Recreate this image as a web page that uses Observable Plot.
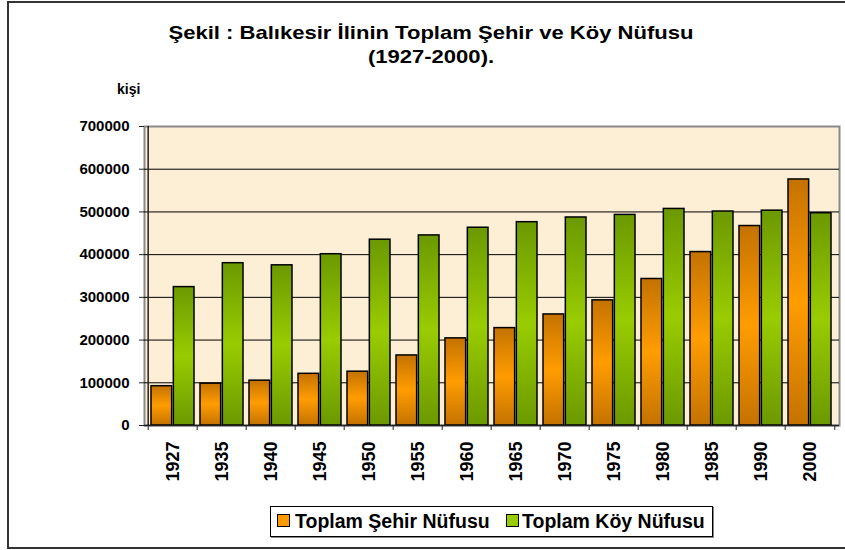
<!DOCTYPE html>
<html>
<head>
<meta charset="utf-8">
<script src="https://cdn.jsdelivr.net/npm/d3@7"></script>
<script src="https://cdn.jsdelivr.net/npm/@observablehq/plot@0.6"></script>
<style>
  html, body { margin: 0; padding: 0; background: #fff; overflow: hidden; }
  #wrap { position: relative; width: 845px; height: 550px; overflow: hidden;
    font-family: "Liberation Sans", Arial, sans-serif; font-weight: bold; color: #000; }
  #border { position: absolute; left: 7px; top: 1px; width: 900px; height: 544px; border: 2px solid #333; }
  #title { position: absolute; left: 131px; width: 600px; top: 21px; text-align: center;
    font-size: 19px; line-height: 24px; transform: scaleX(1.16); transform-origin: 300px 0; }
  #unit { position: absolute; left: 117px; top: 81px; font-size: 14px; }
  #chart { position: absolute; left: 0; top: 0; }
  #legend { position: absolute; left: 270px; top: 506px; width: 441px; height: 29px;
    border: 1px solid #000; box-shadow: 1px 1px 0 #888; background: #fff; font-size: 19.5px; white-space: nowrap; }
  .sw { position: absolute; top: 7px; width: 11px; height: 11px; border: 1px solid #000; }
  .lt { position: absolute; top: 3px; line-height: 22px; }
</style>
</head>
<body>
<div id="wrap">
  <div id="border"></div>
  <div id="title">Şekil : Balıkesir İlinin Toplam Şehir ve Köy Nüfusu<br>(1927-2000).</div>
  <div id="unit">kişi</div>
  <div id="chart"></div>
  <div id="legend"></div>
</div>
<script>
const years = ["1927","1935","1940","1945","1950","1955","1960","1965","1970","1975","1980","1985","1990","2000"];
const sehir = [92000, 98000, 105000, 121000, 126000, 164000, 204000, 228000, 260000, 293000, 343000, 406000, 467000, 576000];
const koy   = [324000, 380000, 375000, 401000, 435000, 445000, 463000, 476000, 487000, 493000, 507000, 501000, 503000, 497000];
const seriesNames = ["Toplam Şehir Nüfusu", "Toplam Köy Nüfusu"];
const yTicks = [0, 100000, 200000, 300000, 400000, 500000, 600000, 700000];

const rows = years.flatMap((y, i) => [
  {year: y, series: seriesNames[0], value: sehir[i]},
  {year: y, series: seriesNames[1], value: koy[i]}
]);

const W = 845, H = 550;
const mL = 144, mR = 6, mT = 126, mB = 125;
const nB = years.length;
const pIn = 0.12, pOut = 0.06;
const step = (W - mL - mR) / (nB - pIn + 2 * pOut);
const bw = step * (1 - pIn);

const chart = Plot.plot({
  width: W, height: H,
  marginLeft: mL, marginRight: mR, marginTop: mT, marginBottom: mB,
  style: {fontFamily: "'Liberation Sans', Arial, sans-serif", fontWeight: "bold", color: "#000", background: "transparent", overflow: "visible"},
  x: {type: "band", domain: years, paddingInner: pIn, paddingOuter: pOut, align: 0.5, axis: null},
  y: {domain: [0, 700000], axis: null},
  marks: [
    Plot.frame({fill: "#fcefd6", stroke: "#8a8a8a", strokeWidth: 2}),
    Plot.ruleY(yTicks.slice(1, -1), {stroke: "#000", strokeWidth: 1}),
    Plot.barY(rows.filter(d => d.series === seriesNames[0]), {
      x: "year", y: "value", insetRight: bw / 2 + 0.5,
      fill: "url(#gOrange)", stroke: "#000", strokeWidth: 1.5
    }),
    Plot.barY(rows.filter(d => d.series === seriesNames[1]), {
      x: "year", y: "value", insetLeft: bw / 2 + 0.5,
      fill: "url(#gGreen)", stroke: "#000", strokeWidth: 1.5
    }),
    Plot.ruleY([0], {stroke: "#222", strokeWidth: 1.5}),
    Plot.ruleX([years[0]], {dx: -step / 2, stroke: "#222", strokeWidth: 1.5}),
    Plot.ruleX(years, {x: d => d, dx: -step / 2, y1: 0, y2: 0, insetBottom: -5, stroke: "#222", strokeWidth: 1}),
    Plot.ruleX([years[nB - 1]], {dx: step / 2, y1: 0, y2: 0, insetBottom: -5, stroke: "#222", strokeWidth: 1}),
    Plot.axisY({ticks: yTicks, tickSize: 5, tickPadding: 10, tickFormat: d3.format("d"), fontSize: 15, stroke: "#222", label: null}),
    Plot.axisX({tickSize: 0, tickRotate: -90, tickPadding: 16, fontSize: 18, label: null})
  ]
});

// gradients
const svgNS = "http://www.w3.org/2000/svg";
const svg = chart.tagName.toLowerCase() === "svg" ? chart : chart.querySelector("svg");
const defs = document.createElementNS(svgNS, "defs");
function grad(id, dark, light) {
  const g = document.createElementNS(svgNS, "linearGradient");
  g.setAttribute("id", id);
  g.setAttribute("x1", "0"); g.setAttribute("y1", "0");
  g.setAttribute("x2", "0"); g.setAttribute("y2", "1");
  [[0, dark], [0.5, light], [1, dark]].forEach(([o, c]) => {
    const s = document.createElementNS(svgNS, "stop");
    s.setAttribute("offset", o);
    s.setAttribute("stop-color", c);
    g.appendChild(s);
  });
  defs.appendChild(g);
}
grad("gOrange", "#c47200", "#ff9c00");
grad("gGreen", "#6b9900", "#99cc00");
svg.insertBefore(defs, svg.firstChild);

document.getElementById("chart").appendChild(chart);

// legend
const legendColors = ["#ff9900", "#99cc00"];
const swLeft = [6, 235];
const txtLeft = [24, 251];
const legend = d3.select("#legend");
seriesNames.forEach((s, i) => {
  legend.append("span").attr("class", "sw").style("background", legendColors[i]).style("left", swLeft[i] + "px");
  legend.append("span").attr("class", "lt").style("left", txtLeft[i] + "px").text(s);
});
</script>
</body>
</html>
